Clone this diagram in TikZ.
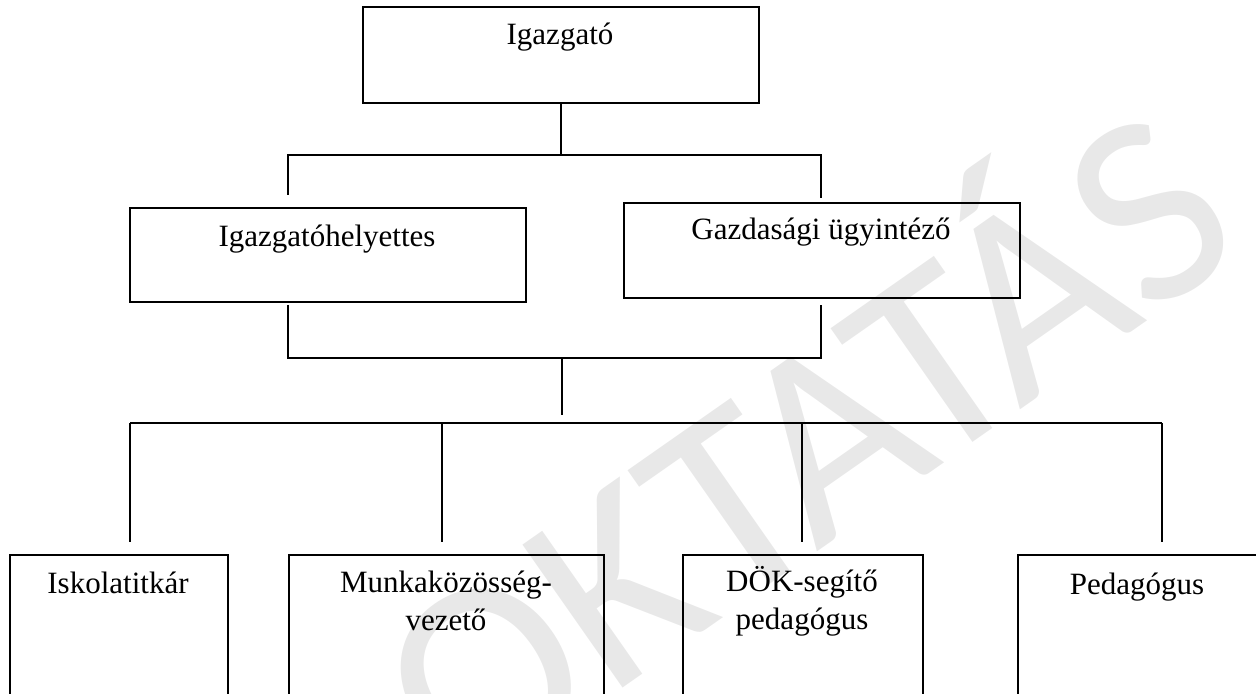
\documentclass[tikz,border=0pt]{standalone}
\usepackage{fontspec}
\setmainfont{Liberation Serif}
\newfontfamily\wmfont{Carlito}

\tikzset{
  box/.style={draw, line width=1pt, anchor=north west, inner sep=0pt},
  boxtxt/.style={anchor=base, align=center, inner sep=0pt,
    font=\fontsize{15.5}{19}\selectfont},
  wire/.style={line width=0.8pt},
}

\begin{document}
\begin{tikzpicture}[x=0.5pt, y=-0.5pt]
  \newcommand\wtop{198pt}
  \newcommand\hbot{110pt}
  \useasboundingbox (0,0) rectangle (1256,694);

  % watermark
  \node[text=black!9, font=\wmfont\fontsize{136}{136}\selectfont, rotate=35] (wm) at (792,432) {OKTATÁS};

  % top levels
  \node[box, minimum width=\wtop, minimum height=48pt] (igazgato) at (362,6) {};
  \node[box, minimum width=\wtop, minimum height=47pt] (helyettes) at (129,207) {};
  \node[box, minimum width=\wtop, minimum height=47.5pt] (gazdasagi) at (623,202) {};

  % bottom level
  \node[box, minimum width=109pt, minimum height=\hbot] (titkar) at (9,554) {};
  \node[box, minimum width=157.5pt, minimum height=\hbot] (mkvez) at (288,554) {};
  \node[box, minimum width=120pt, minimum height=\hbot] (dok) at (682,554) {};
  \node[box, minimum width=120.5pt, minimum height=\hbot] (ped) at (1017,554) {};

  % texts (base = last line)
  \node[boxtxt] (igazgatoTxt) at (560,45) {Igazgató};
  \node[boxtxt] (helyettesTxt) at (327,247) {Igazgatóhelyettes};
  \node[boxtxt] (gazdasagiTxt) at (821,240) {Gazdasági ügyintéző};
  \node[boxtxt] (titkarTxt) at (118,593) {Iskolatitkár};
  \node[boxtxt] (mkvezTxt) at (446,630) {Munkaközösség-\\vezető};
  \node[boxtxt] (dokTxt) at (802,629) {DÖK-segítő\\pedagógus};
  \node[boxtxt] (pedTxt) at (1137,594) {Pedagógus};

  % connectors, upper part
  \coordinate (hl) at (288,155);
  \coordinate (hr) at (821,155);
  \draw[wire] (igazgato.south) -- (igazgato.south |- hl);
  \draw[wire] ([yshift=6pt]hl |- helyettes.north) -- (hl) -- (hr) -- ([yshift=2pt]hr |- gazdasagi.north);

  % connectors, middle part
  \coordinate (ml) at (288,358);
  \coordinate (mr) at (821,358);
  \coordinate (mc) at (562,358);
  \draw[wire] ([yshift=-1pt]ml |- helyettes.south) -- (ml) -- (mr) -- ([yshift=-3pt]mr |- gazdasagi.south);
  \draw[wire] (mc) -- (562,415);

  % connectors, lower part
  \coordinate (barL) at (130,423);
  \coordinate (barR) at (1162,423);
  \draw[wire] (barL) -- (barR);
  \foreach \b/\x in {titkar/130, mkvez/442, dok/802, ped/1162}
    \draw[wire] (\x,423) -- ([yshift=6pt]\x,0 |- \b.north);
\end{tikzpicture}
\end{document}
